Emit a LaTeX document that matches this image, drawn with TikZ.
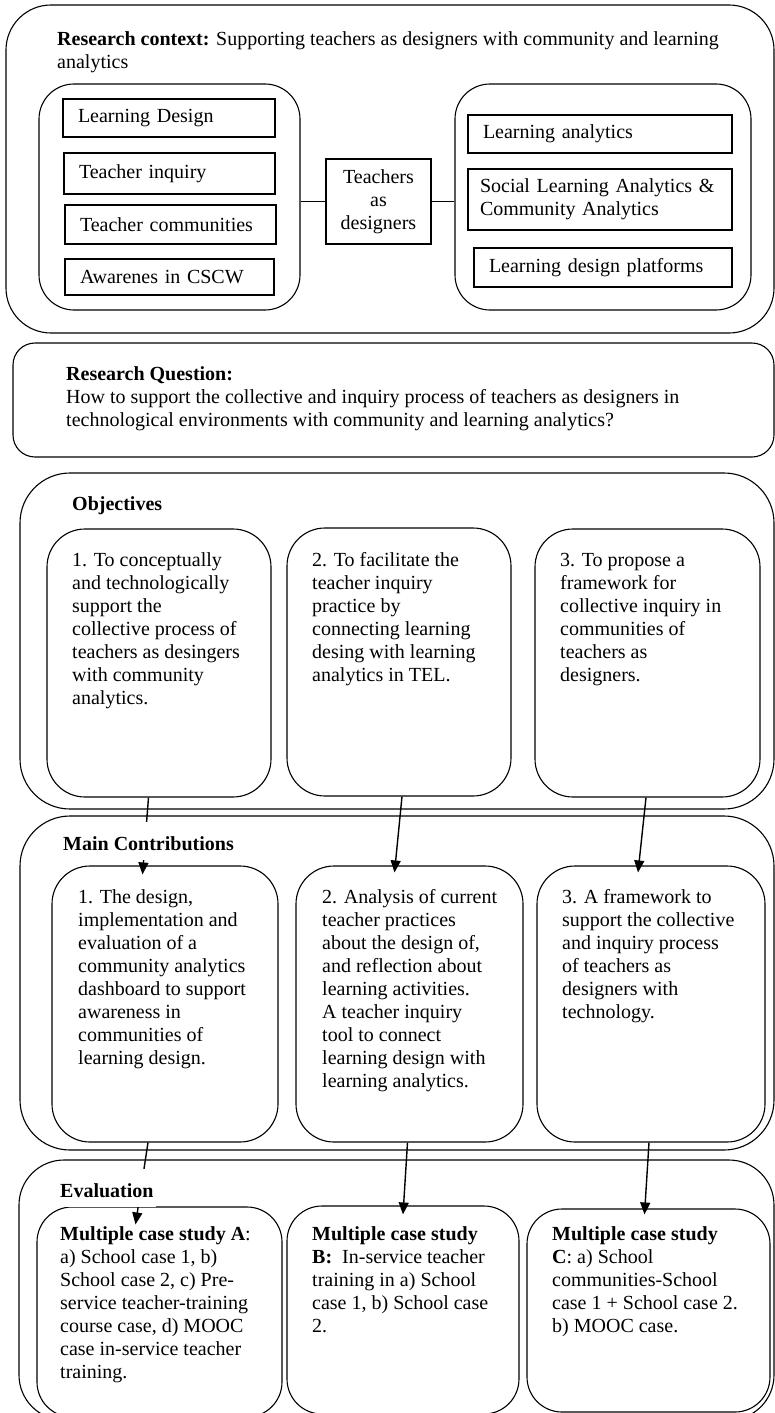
\documentclass[tikz,border=0pt]{standalone}
\usepackage{fontspec}
\setmainfont{Liberation Serif}
\usetikzlibrary{arrows.meta, calc}

\begin{document}
\begin{tikzpicture}[
  x=1pt, y={(0pt,-1pt)},
  every node/.style={font=\fontsize{20}{23}\selectfont},
  panel/.style={draw, line width=1.1pt, rounded corners=#1, inner sep=0pt},
  panel/.default=35pt,
  topic/.style={draw, line width=1.1pt, inner xsep=15pt, inner ysep=0pt, align=left},
  heading/.style={anchor=base west, font=\fontsize{20}{23}\selectfont\bfseries, fill=white,
    text height=19pt, text depth=0pt, inner xsep=2pt, inner ysep=9.5pt},
  body/.style={anchor=base west, align=left, inner sep=0pt},
  link/.style={line width=1.1pt},
  flow/.style={line width=1.4pt, -{Triangle[length=12pt,width=10pt]}}
]
\useasboundingbox (0,0) rectangle (775,1413);

% research context (body nodes sit on the baseline of their last line)
\node[panel=45pt, minimum width=768pt, minimum height=328pt] (ctx) at (390,169) {};
\node[body] (ctxtxt) at (57,69) {\textbf{Research context:} Supporting teachers as designers with community and learning\\analytics};
\node[panel, minimum width=261pt, minimum height=226pt] (ctxL) at (169.5,197) {};
\node[panel, minimum width=296pt, minimum height=226pt] (ctxR) at (603,197) {};
\node[topic, text width=182pt, minimum height=38pt] (ld) at (169,118) {Learning Design};
\node[topic, text width=181pt, minimum height=41pt] (ti) at (169.5,173.5) {Teacher inquiry};
\node[topic, text width=181pt, minimum height=39pt] (tc) at (170.5,224.5) {Teacher communities};
\node[topic, text width=179pt, minimum height=36pt] (aw) at (169.5,277) {Awarenes in CSCW};
\node[draw, line width=1.1pt, align=center, inner sep=0pt, minimum width=105pt, minimum height=85pt] (tad) at (378.5,201.5) {Teachers\\as\\designers};
\node[topic, text width=234pt, minimum height=38pt] (la) at (600,134) {Learning analytics};
\node[topic, inner xsep=12pt, text width=240pt, minimum height=61pt] (sla) at (600,199.5) {Social Learning Analytics~\&\\Community Analytics};
\node[topic, text width=228pt, minimum height=39pt] (ldp) at (603,267.5) {Learning design platforms};
\draw[link] (ctxL.east |- tad.west) -- (tad.west);
\draw[link] (tad.east) -- (tad.east -| ctxR.west);

% research question
\node[panel=22pt, minimum width=761pt, minimum height=114pt] (rq) at (393.5,400) {};
\node[body] (rqtxt) at (66,426) {\textbf{Research Question:}\\How to support the collective and inquiry process of teachers as designers in\\technological environments with community and learning analytics?};

% objectives
\node[panel=50pt, minimum width=754pt, minimum height=336pt] (objs) at (397,641) {};
\node[panel=38pt, minimum width=224pt, minimum height=268pt] (obj1) at (159,663) {};
\node[panel=38pt, minimum width=224pt, minimum height=268pt] (obj2) at (399,662) {};
\node[panel=38pt, minimum width=225pt, minimum height=268pt] (obj3) at (647.5,663) {};
\node[body] (obj1txt) at (72,704) {1. To conceptually\\and technologically\\support the\\collective process of\\teachers as desingers\\with community\\analytics.};
\node[body] (obj2txt) at (312,681) {2. To facilitate the\\teacher inquiry\\practice by\\connecting learning\\desing with learning\\analytics in TEL.};
\node[body] (obj3txt) at (560,681) {3. To propose a\\framework for\\collective inquiry in\\communities of\\teachers as\\designers.};

% main contributions
\node[panel=50pt, minimum width=754pt, minimum height=334pt] (cons) at (397,983) {};
\node[panel=38pt, minimum width=226pt, minimum height=276pt] (con1) at (165,1004) {};
\node[panel=38pt, minimum width=227pt, minimum height=276pt] (con2) at (409.5,1004) {};
\node[panel=38pt, minimum width=228pt, minimum height=276pt] (con3) at (651,1004) {};
\node[body] (con1txt) at (78,1064) {1. The design,\\implementation and\\evaluation of a\\community analytics\\dashboard to support\\awareness in\\communities of\\learning design.};
\node[body] (con2txt) at (322,1087) {2. Analysis of current\\teacher practices\\about the design of,\\and reflection about\\learning activities.\\A teacher inquiry\\tool to connect\\learning design with\\learning analytics.};
\node[body] (con3txt) at (562,1018) {3. A framework to\\support the collective\\and inquiry process\\of teachers as\\designers with\\technology.};

% evaluation
\node[panel=45pt, minimum width=755pt, minimum height=260pt] (evs) at (396.5,1290) {};
\node[panel, minimum width=245pt, minimum height=210pt] (evA) at (159.5,1312) {};
\node[panel, minimum width=232pt, minimum height=208pt] (evB) at (403,1310) {};
\node[panel, minimum width=243pt, minimum height=203pt] (evC) at (648.5,1310.5) {};
\node[body] (evAtxt) at (60,1378) {\textbf{Multiple case study A}:\\a) School case 1, b)\\School case 2, c) Pre-\\service teacher-training\\course case, d) MOOC\\case in-service teacher\\training.};
\node[body] (evBtxt) at (312,1332) {\textbf{Multiple case study}\\\textbf{B:}~ In-service teacher\\training in a) School\\case 1, b) School case\\2.};
\node[body] (evCtxt) at (552,1332) {\textbf{Multiple case study}\\\textbf{C}: a) School\\communities-School\\case 1 + School case 2.\\b) MOOC case.};

% connectors
\draw[flow] ([xshift=-10.5pt]obj1.south) -- ([xshift=-22.5pt,yshift=-9pt]con1.north);
\draw[flow] ([xshift=3pt]obj2.south) -- ([xshift=-15pt,yshift=-7pt]con2.north);
\draw[flow] ([xshift=-1.5pt]obj3.south) -- ([xshift=-13pt,yshift=-7pt]con3.north);
\draw[flow] ([xshift=-17pt]con1.south) -- ([xshift=-24pt,yshift=-18pt]evA.north);
\draw[flow] ([xshift=-2pt]con2.south) -- ([yshift=-9pt]evB.north);
\draw[flow] ([xshift=-2pt]con3.south) -- ([xshift=-4pt,yshift=-6pt]evC.north);

% headings
\node[heading] (objhd) at (70,510) {Objectives};
\node[heading] (conhd) at (61,850) {Main Contributions};
\node[heading] (evhd) at (58,1197) {Evaluation};
\end{tikzpicture}
\end{document}
